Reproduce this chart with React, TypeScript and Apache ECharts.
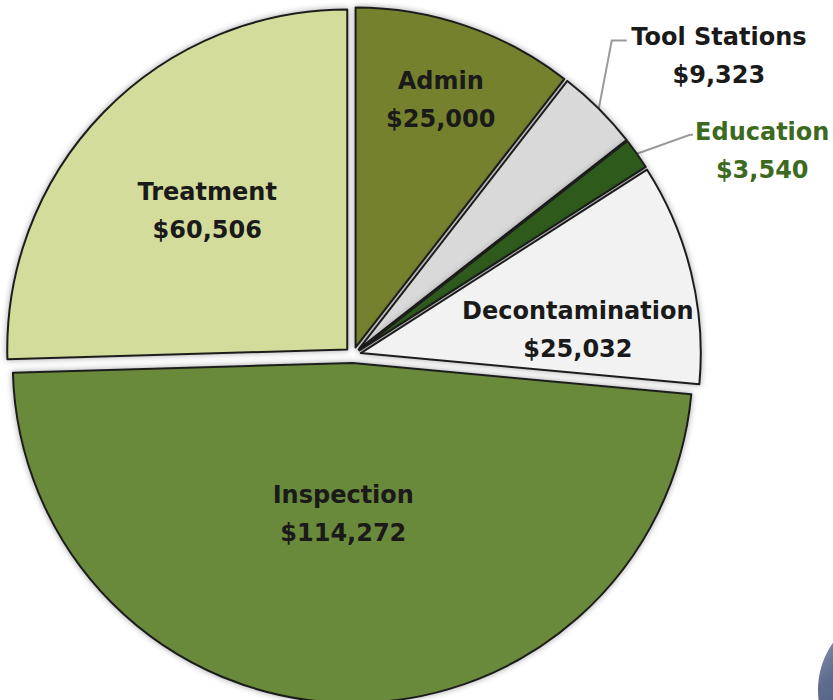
import { useEffect, useRef } from "react";
import * as echarts from "echarts";

const categories = ["Admin", "Tool Stations", "Education", "Decontamination", "Inspection", "Treatment"];
const amounts = [25000, 9323, 3540, 25032, 114272, 60506];

const sliceColors = ["#76812e", "#d9d9d9", "#2e5a1b", "#f2f2f2", "#6b8a3b", "#d3dc9b"];
const labelColors: Record<string, string> = { Education: "#3c6a20" };
const outsideNames = ["Tool Stations", "Education"];
// nudges of the library's default label placement (px)
const labelNudge: Record<string, [number, number]> = {
  Admin: [29, -84],
  Treatment: [-16, -18],
  Decontamination: [49, 18],
  Inspection: [-4, -22],
  "Tool Stations": [86, -38],
  Education: [89, 9],
};
// leader-line bends relative to the slice edge point (px)
const leaderBend: Record<string, [number, number, number]> = {
  "Tool Stations": [13, -68, 28],
  Education: [53, -19, 56],
};

const fmt = (v: number) => "$" + v.toLocaleString("en-US");

export default function App() {
  const ref = useRef<HTMLDivElement>(null);
  useEffect(() => {
    if (!ref.current) return;
    const chart = echarts.init(ref.current, undefined, { renderer: "svg" });
    const data = categories.map((name, i) => {
      const outside = outsideNames.includes(name);
      return {
        name,
        value: amounts[i],
        selected: true,
        itemStyle: { color: sliceColors[i] },
        label: {
          position: outside ? "outside" : "inside",
          color: labelColors[name] || "#1a1a1a",
        },
        labelLine: {
          show: outside,
          length: 20,
          length2: 15,
          lineStyle: { color: "#9a9a9a", width: 2 },
        },
      };
    });
    chart.setOption({
      animation: false,
      backgroundColor: "#ffffff",
      graphic: [
        {
          type: "circle",
          shape: { cx: 900, cy: 690, r: 82 },
          style: {
            fill: new echarts.graphic.LinearGradient(0, 0, 1, 1, [
              { offset: 0, color: "#a3adc4" },
              { offset: 0.25, color: "#5d6b8e" },
              { offset: 1, color: "#2f3b58" },
            ]),
          },
          silent: true,
        },
      ],
      series: [
        {
          type: "pie",
          center: [353, 355],
          radius: 340,
          startAngle: 90,
          clockwise: true,
          selectedMode: "multiple",
          selectedOffset: 8,
          avoidLabelOverlap: false,
          silent: true,
          emphasis: { disabled: true },
          itemStyle: {
            borderColor: "#1e1e1e",
            borderWidth: 2,
            shadowBlur: 6,
            shadowColor: "rgba(0,0,0,0.35)",
          },
          label: {
            show: true,
            formatter: (p: any) => p.name + "\n" + fmt(p.value),
            fontFamily: "DejaVu Sans",
            fontWeight: "bold",
            fontSize: 24,
            lineHeight: 38,
          },
          labelLayout: (p: any) => {
            const name = categories[p.dataIndex];
            const n = labelNudge[name] || [0, 0];
            const bend = leaderBend[name];
            if (bend && p.labelLinePoints) {
              const p0 = p.labelLinePoints[0];
              return {
                dx: n[0],
                dy: n[1],
                align: "center",
                verticalAlign: "middle",
                labelLinePoints: [
                  [p0[0], p0[1]],
                  [p0[0] + bend[0], p0[1] + bend[1]],
                  [p0[0] + bend[2], p0[1] + bend[1]],
                ],
              };
            }
            return { dx: n[0], dy: n[1] };
          },
          data,
        },
      ],
    });
    return () => chart.dispose();
  }, []);
  return (
    <div
      ref={ref}
      style={{ position: "absolute", left: 0, top: 0, width: 833, height: 700 }}
    />
  );
}
